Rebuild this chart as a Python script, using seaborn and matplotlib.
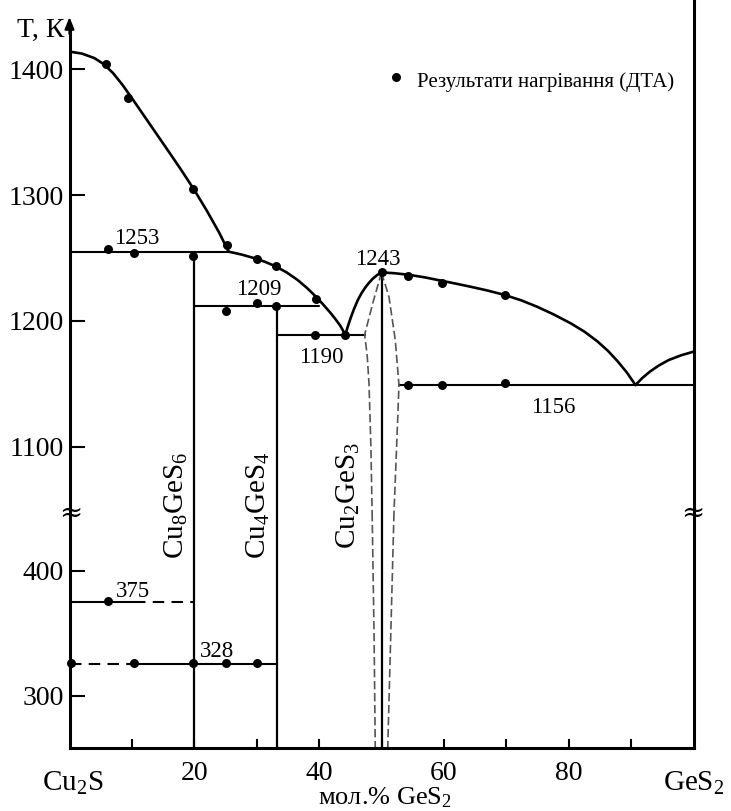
import matplotlib
matplotlib.use("Agg")
import matplotlib.pyplot as plt
import seaborn as sns

# ---------------- data (x: mol.% GeS2, T: K) ----------------
# liquidus branches
liq_a_x = [0, 2, 4, 5.5, 7, 8.5, 10, 12, 14, 16, 18, 20, 22, 24, 25.5]
liq_a_T = [1414, 1412.4, 1408.8, 1404, 1396.8, 1387.5, 1377, 1362.6, 1348.2, 1333.8,
           1319.2, 1304, 1287.6, 1270, 1255]
liq_b_x = [25.5, 27.5, 29.5, 31.3, 33.0, 34.8, 36.5, 38.0, 39.4, 40.6, 41.8, 42.6, 43.4, 44.2]
liq_b_T = [1255, 1252.8, 1250, 1247, 1243.4, 1238.5, 1232.7, 1226.4, 1219.7, 1213.3,
           1206.5, 1201.5, 1196.1, 1189]
liq_c_x = [44.2, 44.6, 45.0, 45.6, 46.2, 46.8, 47.4, 48.0, 48.6, 49.3, 50.0]
liq_c_T = [1189, 1195.5, 1201.5, 1209.5, 1216.5, 1222, 1226.5, 1230.3, 1233.5, 1236.4, 1238.5]
liq_d_x = [50, 52, 54.4, 57, 59.7, 62, 64.3, 67, 69.8, 72.4, 74.9, 77.6, 80.3, 82.5,
           84.6, 86.3, 87.8, 89.3, 90.7]
liq_d_T = [1238.5, 1237.9, 1236.6, 1234.5, 1231.8, 1229.5, 1227.1, 1224.1, 1220.5, 1216.3,
           1211.3, 1205.1, 1198.1, 1191.5, 1183.7, 1176.1, 1168.1, 1159.1, 1149]
liq_e_x = [90.7, 91.8, 93.0, 94.4, 96.0, 98.0, 100]
liq_e_T = [1149, 1154.6, 1159.6, 1164.4, 1168.8, 1172.6, 1175.5]

# invariant horizontals (x_start, x_end, T)
h_upper = [(0, 25.5, 1255), (20, 40.0, 1211.5), (33.3, 47.3, 1189), (52.8, 100, 1149)]
# lower horizontals: solid part and dashed part
h375_solid = (0, 10.3, 375.3)
h375_dash = (10.3, 20, 375.3)
h328_dash = (0, 10.3, 325.8)
h328_solid = (10.3, 33.3, 325.8)

# compounds (x, top T)
comp_x = [20, 33.3, 50]
comp_top = [1255, 1211.5, 1238.5]
comp_names = [r"Cu$_{\mathrm{8}}$GeS$_{\mathrm{6}}$", r"Cu$_{\mathrm{4}}$GeS$_{\mathrm{4}}$",
              r"Cu$_{\mathrm{2}}$GeS$_{\mathrm{3}}$"]

# homogeneity range of Cu2GeS3 (dashed)
dl_up_x = [50.0, 48.6, 47.3, 47.7, 48.0, 48.3, 48.5]
dl_up_T = [1238.5, 1214, 1189, 1173, 1150, 1100, 1047.3]
dr_up_x = [50.0, 51.2, 52.2, 52.8, 52.5, 52.0]
dr_up_T = [1238.5, 1219, 1185, 1149, 1110, 1047.3]
dl_lo_x = [48.5, 48.8, 49.0]
dl_lo_T = [446, 352, 258.5]
dr_lo_x = [52.0, 51.5, 51.0]
dr_lo_T = [446, 352, 258.5]

# DTA heating results
dta_hi_x = [5.9, 9.3, 19.8, 25.2, 6.1, 10.3, 19.8, 30.1, 33.1, 39.5, 44.1, 25.1, 30.0, 33.1,
            39.4, 50.0, 54.3, 59.7, 69.8, 54.3, 59.7, 69.8]
dta_hi_T = [1404, 1377, 1304.5, 1260, 1257, 1254, 1251.5, 1249, 1243.5, 1217.5, 1189, 1207.5,
            1214.5, 1211.5, 1189, 1238.5, 1236, 1230, 1220.5, 1149, 1149, 1150.5]
dta_lo_x = [6.1, 0.3, 10.4, 19.8, 25.0, 30.0]
dta_lo_T = [375.5, 326, 326, 326, 326, 326]

# labels
val_labels_hi = [("1253", 10.8, 1261), ("1209", 30.4, 1220.6), ("1190", 40.3, 1166.3),
                 ("1243", 49.4, 1244.4), ("1156", 77.5, 1126.5)]
val_labels_lo = [("375", 10.1, 379.2), ("328", 23.7, 331.4)]
yticks_hi = [1100, 1200, 1300, 1400]
yticks_lo = [300, 400]
xticks = [10, 20, 30, 40, 50, 60, 70, 80, 90]
xticklabels = ["", "20", "", "40", "", "60", "", "80", ""]

# ---------------- style ----------------
sns.set_theme(style="white")
plt.rcParams["font.family"] = ["Liberation Serif", "DejaVu Serif"]
plt.rcParams["mathtext.fontset"] = "custom"
plt.rcParams["mathtext.rm"] = "Liberation Serif"
plt.rcParams["mathtext.it"] = "Liberation Serif:italic"

W, H = 731, 811
fig = plt.figure(figsize=(W / 100, H / 100), dpi=100)

x0, x1 = 69.5, 693.5
brk, bot = 513, 748
ax_t = fig.add_axes([x0 / W, (H - brk) / H, (x1 - x0) / W, brk / H])
ax_b = fig.add_axes([x0 / W, (H - bot) / H, (x1 - x0) / W, (bot - brk) / H])
for ax in (ax_t, ax_b):
    ax.set_xlim(0, 100)
    ax.set_facecolor("none")
ax_t.set_ylim(1047.3, 1455)
ax_b.set_ylim(258.5, 446)

K = "black"
SPW = 2.2
# spines
ax_t.spines["top"].set_visible(False)
ax_t.spines["bottom"].set_visible(False)
ax_b.spines["top"].set_visible(False)
for ax in (ax_t, ax_b):
    for s in ("left", "right", "bottom"):
        ax.spines[s].set_color(K)
        ax.spines[s].set_linewidth(SPW)
ax_t.spines["left"].set_bounds(1047.3, 1436)
ax_t.annotate("", xy=(0, 1441.5), xytext=(0, 1428), annotation_clip=False,
              arrowprops=dict(arrowstyle="-|>,head_length=0.7,head_width=0.28", color=K,
                              lw=1.6, shrinkA=0, shrinkB=0, mutation_scale=10))

# ticks
ax_t.set_xticks([])
ax_t.set_yticks(yticks_hi)
ax_t.set_yticklabels([str(v) for v in yticks_hi])
ax_b.set_yticks(yticks_lo)
ax_b.set_yticklabels([str(v) for v in yticks_lo])
ax_b.set_xticks(xticks)
ax_b.set_xticklabels(xticklabels)
for ax in (ax_t, ax_b):
    ax.tick_params(axis="y", direction="in", length=10.5, width=1.5, color=K,
                   labelsize=20, pad=4, labelcolor=K, left=True, right=False)
ax_b.tick_params(axis="x", direction="in", length=6.5, width=1.5, color=K,
                 labelsize=20, pad=9, labelcolor=K, bottom=True)

# liquidus curves
for xs, ts in [(liq_a_x, liq_a_T), (liq_b_x, liq_b_T), (liq_c_x, liq_c_T),
               (liq_d_x, liq_d_T), (liq_e_x, liq_e_T)]:
    sns.lineplot(x=xs, y=ts, sort=False, estimator=None, color=K, lw=1.9, ax=ax_t)

# horizontals
for xa, xb, t in h_upper:
    sns.lineplot(x=[xa, xb], y=[t, t], sort=False, estimator=None, color=K, lw=1.5, ax=ax_t)
for xa, xb, t in (h375_solid, h328_solid):
    sns.lineplot(x=[xa, xb], y=[t, t], sort=False, estimator=None, color=K, lw=1.5, ax=ax_b)
for xa, xb, t in (h375_dash, h328_dash):
    ax_b.plot([xa, xb], [t, t], color=K, lw=1.5, dashes=(5.5, 3.5))

# compound verticals
for cx, ct in zip(comp_x, comp_top):
    sns.lineplot(x=[cx, cx], y=[1047.3, ct], sort=False, estimator=None, color=K, lw=1.6, ax=ax_t)
    sns.lineplot(x=[cx, cx], y=[258.5, 446], sort=False, estimator=None, color=K, lw=1.6, ax=ax_b)

# dashed homogeneity range
GR = "#555555"
for ax, xs, ts in [(ax_t, dl_up_x, dl_up_T), (ax_t, dr_up_x, dr_up_T),
                   (ax_b, dl_lo_x, dl_lo_T), (ax_b, dr_lo_x, dr_lo_T)]:
    ax.plot(xs, ts, color=GR, lw=1.2, dashes=(5, 2.2))

# DTA points
sns.scatterplot(x=dta_hi_x, y=dta_hi_T, color=K, s=42, linewidth=0, ax=ax_t, zorder=5, clip_on=False)
sns.scatterplot(x=dta_lo_x, y=dta_lo_T, color=K, s=42, linewidth=0, ax=ax_b, zorder=5, clip_on=False)

# value labels
for txt, x, t in val_labels_hi:
    ax_t.text(x, t, txt, ha="center", va="baseline", fontsize=16.5, color=K)
for txt, x, t in val_labels_lo:
    ax_b.text(x, t, txt, ha="center", va="baseline", fontsize=16.5, color=K)


def px(x, y):
    return x / W, 1 - y / H


# compound names (vertical)
for name, (cx, cy) in zip(comp_names, [(176, 505), (258, 505), (348, 496)]):
    fig.text(*px(cx, cy), name, rotation=90, ha="center", va="center", fontsize=21, color=K)

# legend
ax_t.scatter([52.4], [1394.1], color=K, s=42, linewidths=0, clip_on=False)
fig.text(*px(417, 86.5), "Результати нагрівання (ДТА)", ha="left", va="baseline",
         fontsize=15, color=K)

# axis texts
fig.text(*px(41, 36.5), "T, К", ha="center", va="baseline", fontsize=20, color=K)
fig.text(*px(72.5, 791), r"Cu$_{\mathrm{2}}$S", ha="center", va="baseline", fontsize=21, color=K)
fig.text(*px(694, 791), r"GeS$_{\mathrm{2}}$", ha="center", va="baseline", fontsize=21, color=K)
fig.text(*px(385, 804), r"мол.% GeS$_{\mathrm{2}}$", ha="center", va="baseline", fontsize=19, color=K)

# axis break marks
for bx in (71, 693):
    fig.text(*px(bx, 513), "≈", ha="center", va="center", fontsize=20, color=K,
             family=["DejaVu Serif"])

fig.savefig("out.png", dpi=100)
